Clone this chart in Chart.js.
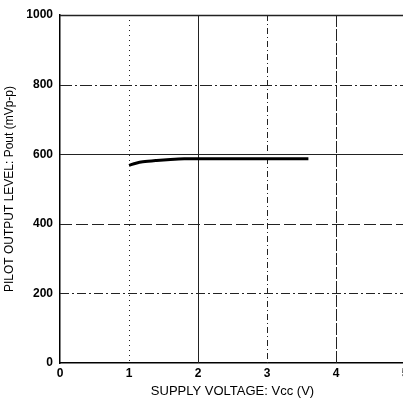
<!DOCTYPE html>
<html>
<head>
<meta charset="utf-8">
<script src="https://cdn.jsdelivr.net/npm/chart.js@4.4.1/dist/chart.umd.min.js"></script>
<style>
html,body{margin:0;padding:0;background:#fff;overflow:hidden;width:403px;height:403px;}
#wrap{width:412px;height:403px;position:relative;}
</style>
</head>
<body>
<div id="wrap"><canvas id="c"></canvas></div>
<script>
const supplyVoltage = [1.0, 1.1, 1.2, 1.4, 1.6, 1.8, 2.0, 2.5, 3.0, 3.6];
const pilotOutput   = [568, 574, 578, 582, 585, 587, 587, 587, 587, 587];
const xTicks = [0, 1, 2, 3, 4, 5];
const yTicks = [0, 200, 400, 600, 800, 1000];

const gridPlugin = {
  id: 'styledGrid',
  beforeDatasetsDraw(chart) {
    const {ctx, chartArea: a, scales: {x, y}} = chart;
    const xDash = {1: [1, 4], 2: [], 3: [6, 3, 1, 3], 4: [12, 2]};
    const yDash = {200: [9, 3, 2, 3], 400: [12, 4], 600: [], 800: [12, 3, 2, 3], 1000: []};
    ctx.save();
    ctx.strokeStyle = '#222';
    ctx.lineWidth = 1;
    xTicks.forEach(v => {
      if (!(v in xDash)) return;
      const px = Math.round(x.getPixelForValue(v)) + 0.5;
      ctx.setLineDash(xDash[v]);
      ctx.beginPath(); ctx.moveTo(px, a.top); ctx.lineTo(px, a.bottom); ctx.stroke();
    });
    yTicks.forEach(v => {
      if (!(v in yDash)) return;
      const py = Math.round(y.getPixelForValue(v)) + 0.5;
      ctx.setLineDash(yDash[v]);
      ctx.lineWidth = v === 1000 ? 1.5 : 1;
      ctx.beginPath(); ctx.moveTo(a.left, py); ctx.lineTo(a.right, py); ctx.stroke();
    });
    ctx.restore();
  }
};

new Chart(document.getElementById('c'), {
  type: 'line',
  data: {
    datasets: [{
      data: supplyVoltage.map((v, i) => ({x: v, y: pilotOutput[i]})),
      borderColor: '#000',
      borderWidth: 3,
      pointRadius: 0,
      tension: 0.3,
      fill: false
    }]
  },
  options: {
    responsive: true,
    maintainAspectRatio: false,
    animation: false,
    layout: {padding: {top: 15, right: 7, left: 0, bottom: 4}},
    plugins: {legend: {display: false}, tooltip: {enabled: false}},
    scales: {
      x: {
        type: 'linear', min: 0, max: 5,
        afterBuildTicks: s => { s.ticks = xTicks.map(v => ({value: v})); },
        afterFit: s => { s.height = 36; },
        grid: {drawOnChartArea: false, drawTicks: false},
        border: {display: true, color: '#000', width: 1.5},
        ticks: {color: '#000', padding: 3, callback: v => String(v),
                font: {family: 'Liberation Sans', size: 12, weight: 'bold'}},
        title: {display: true, text: 'SUPPLY VOLTAGE: Vcc (V)', color: '#000', padding: {top: 0, bottom: 0},
                font: {family: 'Liberation Sans', size: 13}}
      },
      y: {
        type: 'linear', min: 0, max: 1000,
        afterBuildTicks: s => { s.ticks = yTicks.map(v => ({value: v})); },
        afterFit: s => { s.width = 60; },
        grid: {drawOnChartArea: false, drawTicks: false},
        border: {display: true, color: '#000', width: 1.5},
        ticks: {color: '#000', padding: 7, callback: v => String(v),
                font: {family: 'Liberation Sans', size: 12, weight: 'bold'}},
        title: {display: true, text: 'PILOT OUTPUT LEVEL: Pout (mVp-p)', color: '#000', padding: {top: 2, bottom: 2},
                font: {family: 'Liberation Sans', size: 12}}
      }
    }
  },
  plugins: [gridPlugin]
});
</script>
</body>
</html>
